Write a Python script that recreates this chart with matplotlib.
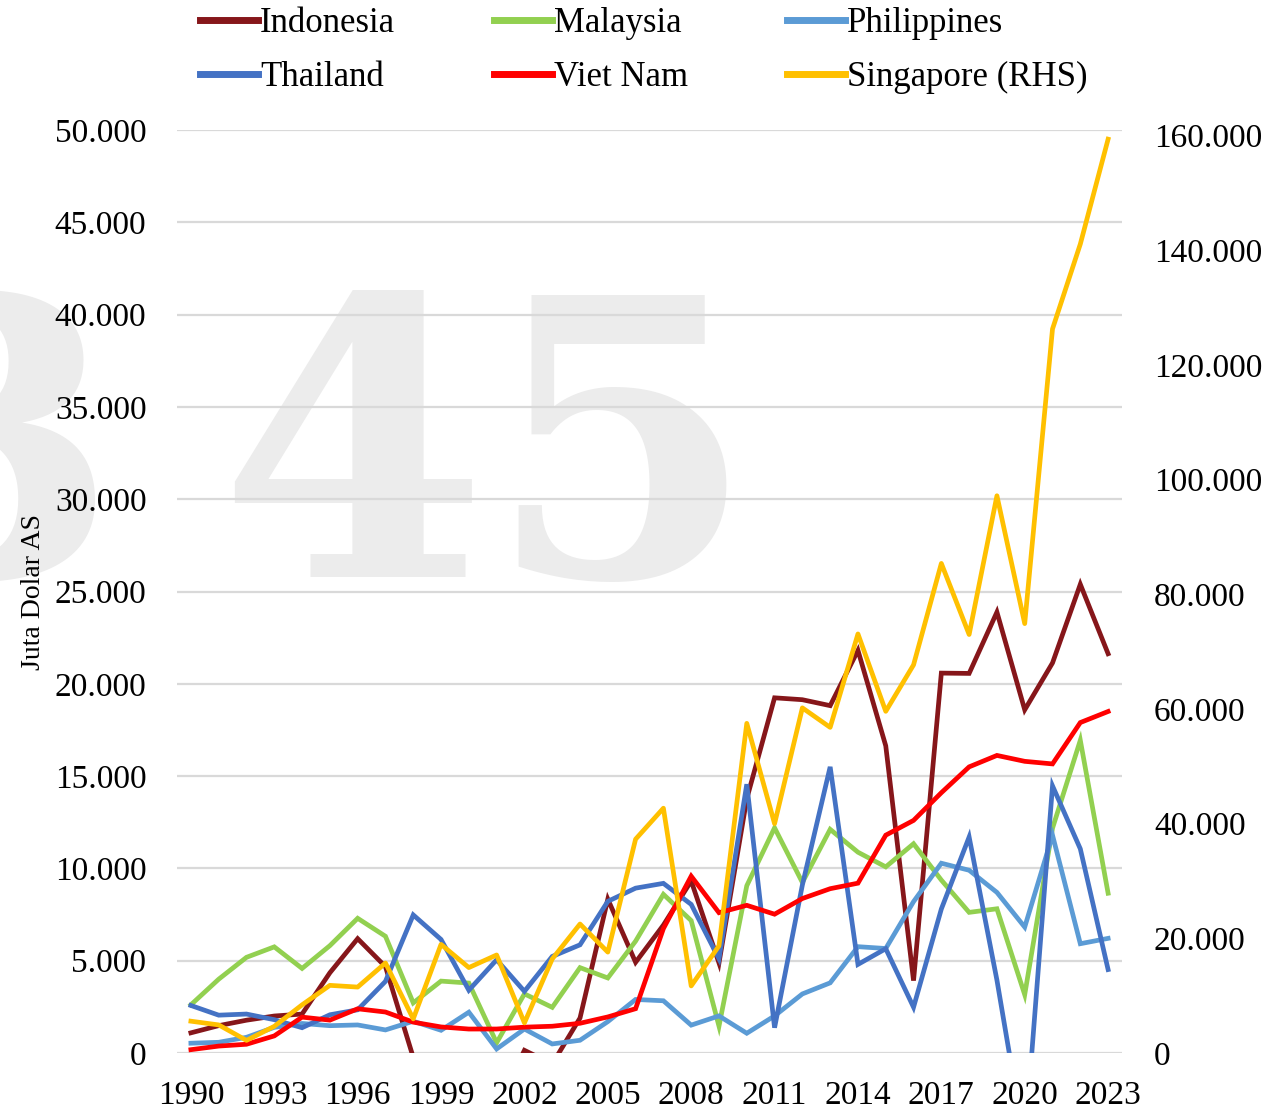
import matplotlib
matplotlib.use("Agg")
import matplotlib.pyplot as plt
from matplotlib.lines import Line2D
from matplotlib.ticker import FuncFormatter, MultipleLocator

# Arus masuk FDI (juta dolar AS)
tahun = list(range(1990, 2024))

indonesia = [1092, 1482, 1777, 2004, 2109, 4346, 6194, 4678, -241, -1866,
             -4550, -2977, 145, -597, 1896, 8336, 4914, 6928, 9318, 4877,
             13771, 19241, 19138, 18817, 21811, 16641, 3921, 20579, 20563, 23883,
             18591, 21131, 25390, 21628]
malaysia = [2611, 3998, 5183, 5750, 4581, 5815, 7297, 6323, 2714, 3895,
            3788, 554, 3203, 2473, 4624, 4065, 6060, 8595, 7172, 1453,
            9060, 12198, 9239, 12115, 10877, 10082, 11336, 9368, 7618, 7813,
            3160, 12176, 16940, 8655]
philippines = [530, 580, 850, 1390, 1600, 1480, 1520, 1250, 1720, 1230,
               2210, 220, 1300, 490, 690, 1700, 2900, 2830, 1510, 2010,
               1070, 2010, 3200, 3800, 5760, 5660, 8200, 10280, 9900, 8700,
               6820, 11800, 5920, 6210]
thailand = [2575, 2050, 2110, 1805, 1370, 2070, 2340, 3880, 7480, 6150,
            3400, 5050, 3340, 5230, 5860, 8215, 8930, 9190, 8050, 5100,
            14560, 1370, 9100, 15500, 4800, 5650, 2480, 7800, 11700, 3950,
            -4946, 14470, 11060, 4520]
vietnam = [180, 375, 474, 926, 1944, 1780, 2395, 2220, 1671, 1412,
           1298, 1300, 1400, 1450, 1610, 1954, 2400, 6739, 9579, 7600,
           8000, 7519, 8368, 8900, 9200, 11800, 12600, 14100, 15500, 16120,
           15800, 15660, 17900, 18500]
singapore = [5550, 4900, 2200, 4650, 8400, 11800, 11500, 15700, 5950, 18950,
             14900, 17100, 5250, 16400, 22500, 17600, 37300, 42700, 11700, 18700,
             57500, 40000, 60200, 56800, 73100, 59600, 67700, 85400, 73000, 97200,
             74900, 126300, 141100, 159400]

seri_kiri = [
    ("Indonesia", indonesia, "#86161A"),
    ("Malaysia", malaysia, "#92D050"),
    ("Philippines", philippines, "#5B9BD5"),
    ("Thailand", thailand, "#4472C4"),
    ("Viet Nam", vietnam, "#FF0000"),
]
warna_sg = "#FFC000"

plt.rcParams["font.family"] = "Liberation Serif"


def format_titik(v, pos):
    return f"{int(round(v)):,}".replace(",", ".")


fig = plt.figure(figsize=(12.81, 11.17), dpi=100)

# watermark di belakang grafik
for angka, xpix in [("3", -15), ("4", 353), ("5", 621)]:
    fig.text(xpix / 1281, 1 - 577 / 1117, angka, fontsize=278,
             family="DejaVu Serif", weight="bold", color="#ececec",
             ha="center", va="baseline", zorder=-1)

ax = fig.add_axes([177 / 1281, 1 - 1053 / 1117, 945 / 1281, 923 / 1117])
ax.set_facecolor("none")

for nama, nilai, warna in seri_kiri:
    ax.plot(tahun, nilai, color=warna, lw=3.4, label=nama, solid_joinstyle="miter")

ax.set_xlim(1989.5, 2023.5)
ax.set_ylim(0, 50000)
ax.set_xticks(tahun[::3])
ax.yaxis.set_major_locator(MultipleLocator(5000))
ax.yaxis.set_major_formatter(FuncFormatter(format_titik))
ax.grid(axis="y", color="#d9d9d9", lw=1.6)
ax.set_axisbelow(True)
for s in ax.spines.values():
    s.set_visible(False)
ax.tick_params(axis="y", length=0, pad=22, labelsize=24)
ax.tick_params(axis="x", length=0, pad=19.5, labelsize=24)
ax.set_ylabel("Juta Dolar AS", fontsize=20)
ax.yaxis.set_label_coords(-0.139, 0.5)

ax2 = ax.twinx()
ax2.plot(tahun, singapore, color=warna_sg, lw=3.4)
ax2.set_ylim(0, 161000)
ax2.yaxis.set_major_locator(MultipleLocator(20000))
ax2.yaxis.set_major_formatter(FuncFormatter(format_titik))
for s in ax2.spines.values():
    s.set_visible(False)
ax2.tick_params(axis="y", length=0, pad=23, labelsize=24)

# legenda: urutan kolom (ncol=3 diisi per kolom)
nama_semua = ["Indonesia", "Thailand", "Malaysia", "Viet Nam", "Philippines", "Singapore (RHS)"]
warna_semua = {nama: warna for nama, _, warna in seri_kiri}
warna_semua["Singapore (RHS)"] = warna_sg
handles = [Line2D([], [], color=warna_semua[n], lw=5) for n in nama_semua]
fig.legend(handles, nama_semua, ncol=3, loc="upper left",
           bbox_to_anchor=(200 / 1281, 1 - 7 / 1117), frameon=False,
           prop={"family": "Liberation Serif", "size": 25},
           handlelength=1.67, handletextpad=0.06, columnspacing=2.85,
           labelspacing=0.6, borderpad=0, borderaxespad=0)

fig.savefig("out.png", dpi=100)
